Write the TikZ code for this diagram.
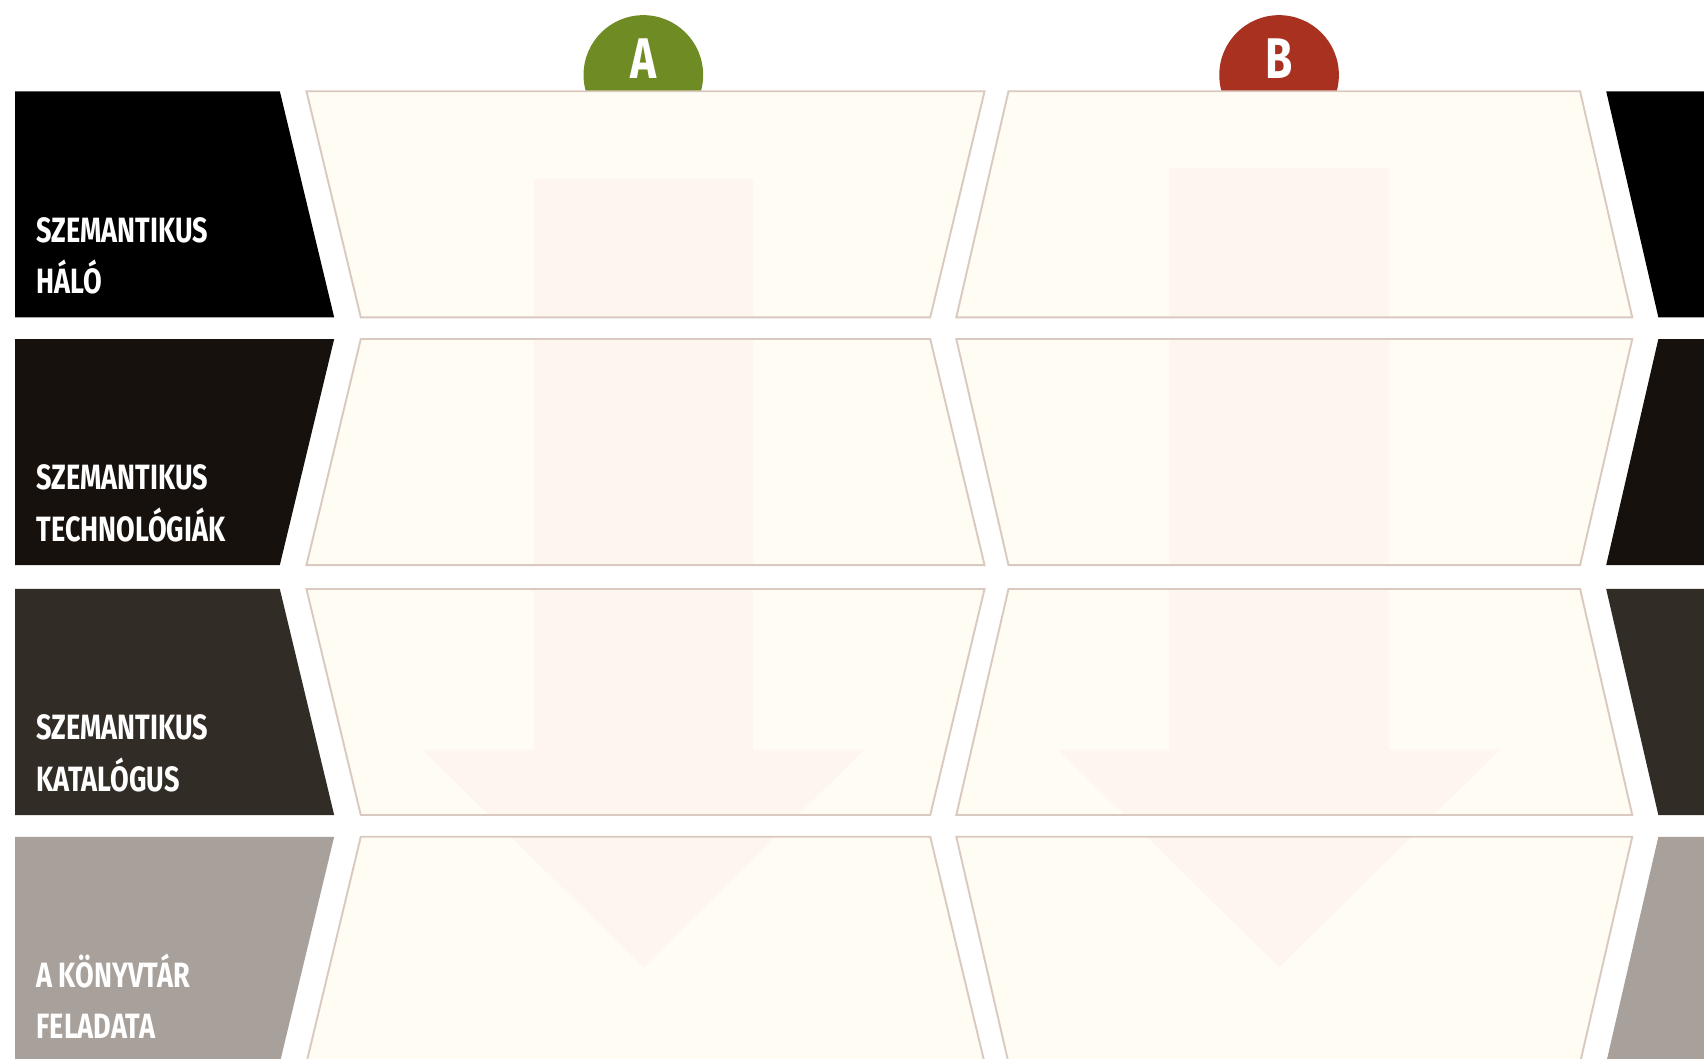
\documentclass[tikz,border=0pt]{standalone}
\usepackage{fontspec}
\newfontfamily\bandfont[FakeStretch=0.77]{Fira Sans}
\usetikzlibrary{positioning}

\definecolor{paper}{HTML}{FFFCF3}
\definecolor{edge}{HTML}{D9C9BF}
\definecolor{ghost}{HTML}{FEF5EF}
\definecolor{band1}{HTML}{000000}
\definecolor{band2}{HTML}{16110D}
\definecolor{band3}{HTML}{322C27}
\definecolor{band4}{HTML}{A8A19B}
\definecolor{leaf}{HTML}{6F8B23}
\definecolor{brick}{HTML}{A8311F}

% big faint arrow: #1 centre x, #2 top of shaft
\newcommand{\bigarrow}[2]{({#1-101},#2) -- ({#1+101},#2) -- ({#1+101},690) -- ({#1+203},690)
  -- (#1,890) -- ({#1-203},690) -- ({#1-101},690) -- cycle}

\begin{document}
\begin{tikzpicture}[
  x=0.01cm, y=-0.01cm,
  cell/.style={fill=paper, draw=edge, line width=0.5pt},
  bandlabel/.style={anchor=base west, align=left, inner sep=0pt, text=white,
    font=\bandfont\bfseries\fontsize{9.2}{13.4}\selectfont},
  badge/.style={circle, minimum size=1.1cm, inner sep=0pt},
  letter/.style={text=white, inner sep=0pt, font=\bandfont\bfseries\fontsize{15}{15}\selectfont}
]
\useasboundingbox (0,0) rectangle (1568,974);
\clip (0,0) rectangle (1568,974);
\fill[white] (0,0) rectangle (1568,974);

% column badges
\node[badge, fill=leaf] (circA) at (592,69) {};
\node[badge, fill=brick] (circB) at (1177,69) {};
\node[letter] (letA) at (592,54) {A};
\node[letter] (letB) at (1177,54) {B};

% rows
\foreach \t/\b/\s/\band/\first/\second [count=\r] in {
  84/292/1/band1/SZEMANTIKUS/HÁLÓ,
  312/520/-1/band2/SZEMANTIKUS/TECHNOLÓGIÁK,
  542/750/1/band3/SZEMANTIKUS/KATALÓGUS,
  770/978/-1/band4/A KÖNYVTÁR/FELADATA}{
  \fill[\band] (14,\t) -- ({282.5-25*\s},\t) -- ({282.5+25*\s},\b) -- (14,\b) -- cycle;
  \path[cell, path picture={\fill[ghost] \bigarrow{592}{165};}]
    ({307-25*\s},\t) -- ({881+25*\s},\t) -- ({881-25*\s},\b) -- ({307+25*\s},\b) -- cycle;
  \path[cell, path picture={\fill[ghost] \bigarrow{1177}{155};}]
    ({904+24*\s},\t) -- ({1478-24*\s},\t) -- ({1478+24*\s},\b) -- ({904-24*\s},\b) -- cycle;
  \fill[\band] ({1502-24*\s},\t) -- (1600,\t) -- (1600,\b) -- ({1502+24*\s},\b) -- cycle;
  \node[bandlabel] (lab\r) at (33,\t+186) {\first\\\second};
}
\end{tikzpicture}
\end{document}
